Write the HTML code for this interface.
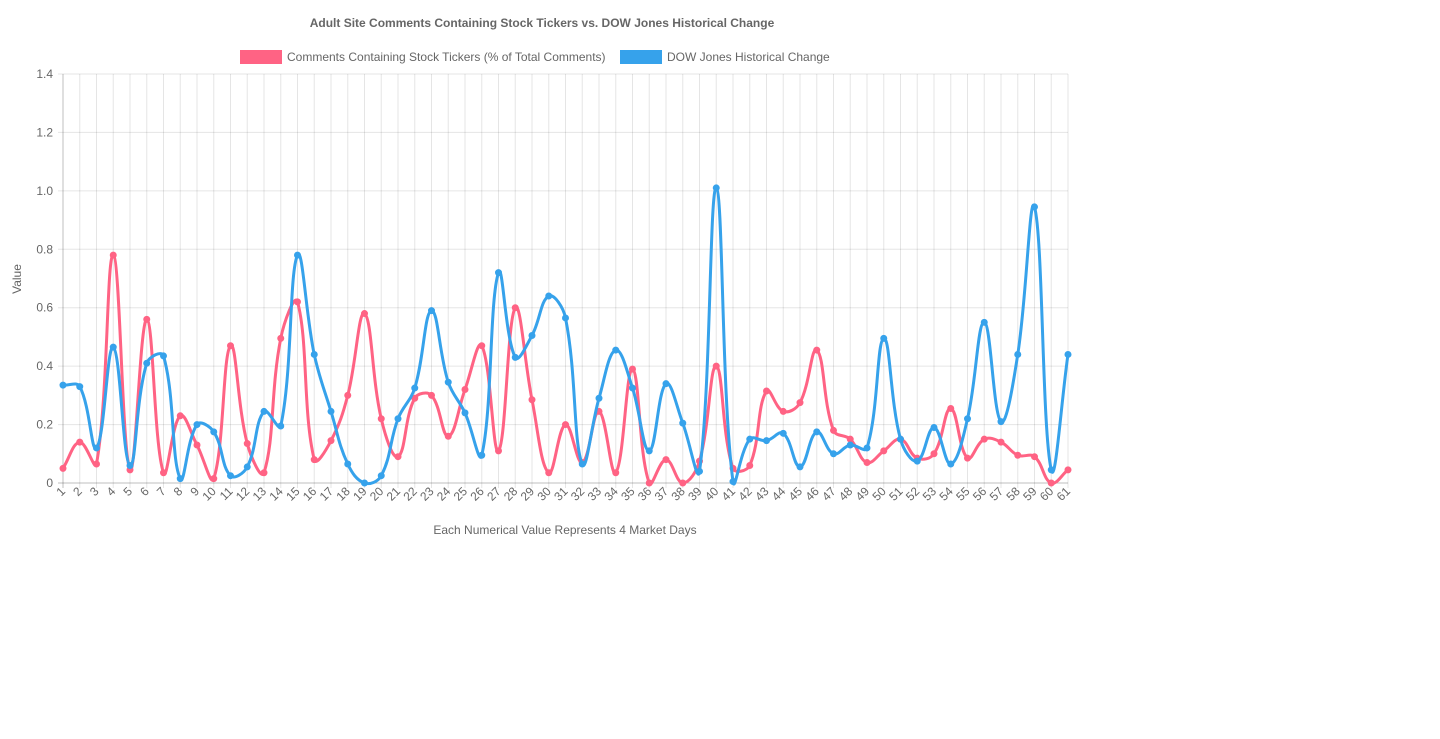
<!DOCTYPE html>
<html><head><meta charset="utf-8"><style>
html,body{margin:0;padding:0;background:#fff;width:1440px;height:739px;overflow:hidden}
svg{display:block;font-family:"Liberation Sans",Arial,sans-serif}
</style></head><body>
<svg id="chart" width="1440" height="739" viewBox="0 0 1440 739">
<text x="542" y="27" text-anchor="middle" font-size="12" font-weight="bold" fill="#666">Adult Site Comments Containing Stock Tickers vs. DOW Jones Historical Change</text>
<g>
<g><rect x="240" y="50" width="42" height="14" fill="#ff6384"/><text x="287" y="61" font-size="12" fill="#666">Comments Containing Stock Tickers (% of Total Comments)</text></g>
<g><rect x="620" y="50" width="42" height="14" fill="#36a2eb"/><text x="667" y="61" font-size="12" fill="#666">DOW Jones Historical Change</text></g>
</g>
<text transform="translate(21,279) rotate(-90)" text-anchor="middle" font-size="12" fill="#666">Value</text>
<text x="565" y="534" text-anchor="middle" font-size="12" fill="#666">Each Numerical Value Represents 4 Market Days</text>
<g id="grid"></g><g id="ticks"></g><g id="series"></g>
</svg>
<script>
const categories = Array.from({length:61},(_,i)=>String(i+1));
const commentsValues = [0.05,0.14,0.065,0.78,0.045,0.56,0.035,0.23,0.13,0.015,0.47,0.135,0.035,0.495,0.62,0.08,0.145,0.30,0.58,0.22,0.09,0.29,0.30,0.16,0.32,0.47,0.11,0.60,0.285,0.035,0.20,0.07,0.245,0.035,0.39,0.0,0.08,0.0,0.075,0.40,0.05,0.06,0.315,0.245,0.275,0.455,0.18,0.15,0.07,0.11,0.15,0.085,0.10,0.255,0.085,0.15,0.14,0.095,0.09,0.0,0.045];
const dowValues = [0.335,0.33,0.12,0.465,0.06,0.41,0.435,0.015,0.2,0.175,0.025,0.055,0.245,0.195,0.78,0.44,0.245,0.065,0.0,0.025,0.22,0.325,0.59,0.345,0.24,0.095,0.72,0.43,0.505,0.64,0.565,0.065,0.29,0.455,0.325,0.11,0.34,0.205,0.04,1.01,0.005,0.15,0.145,0.17,0.055,0.175,0.10,0.13,0.12,0.495,0.15,0.075,0.19,0.065,0.22,0.55,0.21,0.44,0.945,0.045,0.44];
const yTicks = [0,0.2,0.4,0.6,0.8,1.0,1.2,1.4];
const yTickLabels = ["0","0.2","0.4","0.6","0.8","1.0","1.2","1.4"];

const L=63,R=1068,T=74,B=483,YMAX=1.4;
const xs=i=>L+(R-L)*i/(categories.length-1);
const ys=v=>B-(B-T)*v/YMAX;
const NS='http://www.w3.org/2000/svg';
function mk(tag,attrs,parent){const e=document.createElementNS(NS,tag);for(const k in attrs)e.setAttribute(k,attrs[k]);parent.appendChild(e);return e;}
const grid=document.getElementById('grid'),ticks=document.getElementById('ticks'),series=document.getElementById('series');
yTicks.forEach((t,i)=>{
  const ln=mk('line',{x1:L-5,x2:R,y1:ys(t),y2:ys(t),stroke:t===0?'rgba(0,0,0,0.25)':'rgba(0,0,0,0.1)','stroke-width':1},grid);
  
  
  const tx=mk('text',{x:L-10,y:ys(t)+4,'text-anchor':'end','font-size':12,fill:'#666'},ticks);
  tx.textContent=yTickLabels[i];
  
  
});
categories.forEach((c,i)=>{
  const x=xs(i);
  const ln=mk('line',{x1:x,x2:x,y1:T,y2:B+5,stroke:i===0?'rgba(0,0,0,0.25)':'rgba(0,0,0,0.1)','stroke-width':1},grid);
  
  
  const tx=mk('text',{x:x+3,y:B+9,'text-anchor':'end','font-size':12,fill:'#666',transform:`rotate(-45 ${x+3} ${B+9})`},ticks);
  tx.textContent=c;
  
  
});
function spline(pts,t){
  let d=`M${pts[0][0]},${pts[0][1]}`;
  const cp=pts.map((p,i)=>{
    const pr=pts[Math.max(0,i-1)],nx=pts[Math.min(pts.length-1,i+1)];
    const d01=Math.hypot(p[0]-pr[0],p[1]-pr[1]),d12=Math.hypot(nx[0]-p[0],nx[1]-p[1]);
    let fa=d01/(d01+d12)||0,fb=d12/(d01+d12)||0;fa*=t;fb*=t;
    return {p:[p[0]-fa*(nx[0]-pr[0]),p[1]-fa*(nx[1]-pr[1])],n:[p[0]+fb*(nx[0]-pr[0]),p[1]+fb*(nx[1]-pr[1])]};
  });
  for(let i=1;i<pts.length;i++){
    d+=` C${cp[i-1].n[0]},${cp[i-1].n[1]} ${cp[i].p[0]},${cp[i].p[1]} ${pts[i][0]},${pts[i][1]}`;
  }
  return d;
}
function drawSeries(vals,color,name){
  const g=mk('g',{},series);
  
  
  const pts=vals.map((v,i)=>[xs(i),ys(v)]);
  const path=mk('path',{d:spline(pts,0.4),fill:'none',stroke:color,'stroke-width':3},g);
  
  
  pts.forEach(p=>{
    const c=mk('circle',{cx:p[0],cy:p[1],r:3,fill:color,stroke:color,'stroke-width':1},g);
    
    
  });
}
drawSeries(commentsValues,'#ff6384','comments-series');
drawSeries(dowValues,'#36a2eb','dow-series');
</script>
</body></html>
